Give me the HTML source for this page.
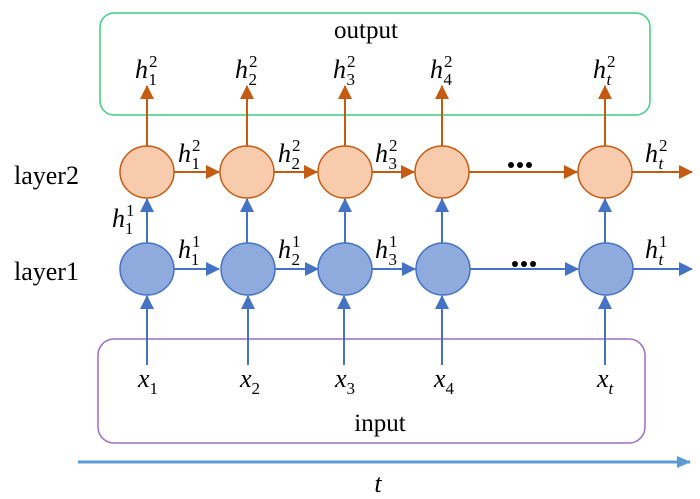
<!DOCTYPE html>
<html><head><style>body{margin:0;background:#fff}svg{display:block}</style></head><body>
<svg width="700" height="499" viewBox="0 0 700 499" xmlns="http://www.w3.org/2000/svg" font-family="Liberation Serif, serif">
<defs>
<marker id="o" markerWidth="14" markerHeight="14" refX="13" refY="7" orient="auto" markerUnits="userSpaceOnUse" viewBox="0 0 14 14"><path d="M0,0 L14,7 L0,14z" fill="#c55a11"/></marker>
<marker id="b" markerWidth="14" markerHeight="14" refX="13" refY="7" orient="auto" markerUnits="userSpaceOnUse" viewBox="0 0 14 14"><path d="M0,0 L14,7 L0,14z" fill="#4472c4"/></marker>
<marker id="t" markerWidth="14" markerHeight="12" refX="13" refY="6" orient="auto" markerUnits="userSpaceOnUse"><path d="M0,0 L14,6 L0,12z" fill="#5b9bd5"/></marker>
</defs>
<rect x="100" y="13" width="550" height="102" rx="14" fill="none" stroke="#3fcf7f" stroke-width="1.5"/>
<rect x="98" y="339" width="547" height="104" rx="16" fill="none" stroke="#9e6fc4" stroke-width="1.5"/>
<text x="366" y="38" font-size="25" text-anchor="middle">output</text>
<text x="380" y="431" font-size="25" text-anchor="middle">input</text>
<text x="14" y="184" font-size="26">layer2</text>
<text x="14" y="280" font-size="26">layer1</text>
<line x1="78" y1="462" x2="690" y2="462" stroke="#5b9bd5" stroke-width="3" marker-end="url(#t)"/>
<text x="378" y="492" font-size="26" font-style="italic" text-anchor="middle">t</text>
<g stroke-width="2">
<g stroke="#c55a11" fill="none">
<line x1="147" y1="146" x2="147" y2="86" marker-end="url(#o)"/>
<line x1="247" y1="146" x2="247" y2="86" marker-end="url(#o)"/>
<line x1="345" y1="146" x2="345" y2="86" marker-end="url(#o)"/>
<line x1="442" y1="146" x2="442" y2="86" marker-end="url(#o)"/>
<line x1="605" y1="146" x2="605" y2="86" marker-end="url(#o)"/>
<line x1="174" y1="172" x2="219" y2="172" marker-end="url(#o)"/>
<line x1="274" y1="172" x2="317" y2="172" marker-end="url(#o)"/>
<line x1="372" y1="172" x2="414" y2="172" marker-end="url(#o)"/>
<line x1="469" y1="172" x2="577" y2="172" marker-end="url(#o)"/>
<line x1="632" y1="172" x2="692" y2="172" marker-end="url(#o)"/>
</g>
<g stroke="#4472c4" fill="none">
<line x1="147" y1="243" x2="147" y2="199" marker-end="url(#b)"/>
<line x1="247" y1="243" x2="247" y2="199" marker-end="url(#b)"/>
<line x1="345" y1="243" x2="345" y2="199" marker-end="url(#b)"/>
<line x1="442" y1="243" x2="442" y2="199" marker-end="url(#b)"/>
<line x1="605" y1="243" x2="605" y2="199" marker-end="url(#b)"/>
<line x1="174" y1="269" x2="219" y2="269" marker-end="url(#b)"/>
<line x1="275" y1="269" x2="318" y2="269" marker-end="url(#b)"/>
<line x1="372" y1="269" x2="415" y2="269" marker-end="url(#b)"/>
<line x1="470" y1="269" x2="578" y2="269" marker-end="url(#b)"/>
<line x1="633" y1="269" x2="692" y2="269" marker-end="url(#b)"/>
<line x1="147" y1="365" x2="147" y2="296" marker-end="url(#b)"/>
<line x1="248" y1="365" x2="248" y2="296" marker-end="url(#b)"/>
<line x1="344" y1="365" x2="344" y2="296" marker-end="url(#b)"/>
<line x1="442" y1="365" x2="442" y2="296" marker-end="url(#b)"/>
<line x1="605" y1="365" x2="605" y2="296" marker-end="url(#b)"/>
</g>
</g>
<g fill="#f8cbad" stroke="#c55a11" stroke-width="1.5">
<ellipse cx="147" cy="172" rx="27" ry="26"/><ellipse cx="247" cy="172" rx="27" ry="26"/><ellipse cx="345" cy="172" rx="27" ry="26"/><ellipse cx="442" cy="172" rx="27" ry="26"/><ellipse cx="605" cy="172" rx="27" ry="26"/>
</g>
<g fill="#8faadc" stroke="#4472c4" stroke-width="1.5">
<ellipse cx="147" cy="269" rx="27" ry="26"/><ellipse cx="248" cy="269" rx="27" ry="26"/><ellipse cx="345" cy="269" rx="27" ry="26"/><ellipse cx="443" cy="269" rx="27" ry="26"/><ellipse cx="606" cy="269" rx="27" ry="26"/>
</g>
<g fill="#000"><circle cx="511" cy="165" r="3"/><circle cx="520" cy="165" r="3"/><circle cx="529" cy="165" r="3"/><circle cx="515" cy="264" r="3"/><circle cx="524" cy="264" r="3"/><circle cx="533" cy="264" r="3"/></g>
<g font-size="26" font-style="italic">
<text x="135" y="78">h<tspan font-size="17" font-style="normal" dx="1" dy="-11">2</tspan><tspan font-size="17" font-style="normal" dx="-9" dy="18">1</tspan></text>
<text x="235" y="78">h<tspan font-size="17" font-style="normal" dx="1" dy="-11">2</tspan><tspan font-size="17" font-style="normal" dx="-9" dy="18">2</tspan></text>
<text x="333" y="78">h<tspan font-size="17" font-style="normal" dx="1" dy="-11">2</tspan><tspan font-size="17" font-style="normal" dx="-9" dy="18">3</tspan></text>
<text x="430" y="78">h<tspan font-size="17" font-style="normal" dx="1" dy="-11">2</tspan><tspan font-size="17" font-style="normal" dx="-9" dy="18">4</tspan></text>
<text x="593" y="78">h<tspan font-size="17" font-style="normal" dx="1" dy="-11">2</tspan><tspan font-size="17" dx="-9" dy="18">t</tspan></text>
<text x="178" y="162">h<tspan font-size="17" font-style="normal" dx="1" dy="-11">2</tspan><tspan font-size="17" font-style="normal" dx="-9" dy="18">1</tspan></text>
<text x="278" y="162">h<tspan font-size="17" font-style="normal" dx="1" dy="-11">2</tspan><tspan font-size="17" font-style="normal" dx="-9" dy="18">2</tspan></text>
<text x="375" y="162">h<tspan font-size="17" font-style="normal" dx="1" dy="-11">2</tspan><tspan font-size="17" font-style="normal" dx="-9" dy="18">3</tspan></text>
<text x="645" y="162">h<tspan font-size="17" font-style="normal" dx="1" dy="-11">2</tspan><tspan font-size="17" dx="-9" dy="18">t</tspan></text>
<text x="112" y="227">h<tspan font-size="17" font-style="normal" dx="1" dy="-11">1</tspan><tspan font-size="17" font-style="normal" dx="-9" dy="18">1</tspan></text>
<text x="178" y="258">h<tspan font-size="17" font-style="normal" dx="1" dy="-11">1</tspan><tspan font-size="17" font-style="normal" dx="-9" dy="18">1</tspan></text>
<text x="278" y="258">h<tspan font-size="17" font-style="normal" dx="1" dy="-11">1</tspan><tspan font-size="17" font-style="normal" dx="-9" dy="18">2</tspan></text>
<text x="375" y="258">h<tspan font-size="17" font-style="normal" dx="1" dy="-11">1</tspan><tspan font-size="17" font-style="normal" dx="-9" dy="18">3</tspan></text>
<text x="645" y="258">h<tspan font-size="17" font-style="normal" dx="1" dy="-11">1</tspan><tspan font-size="17" dx="-9" dy="18">t</tspan></text>
<text x="138" y="387">x<tspan font-size="17" font-style="normal" dy="7">1</tspan></text>
<text x="240" y="387">x<tspan font-size="17" font-style="normal" dy="7">2</tspan></text>
<text x="335" y="387">x<tspan font-size="17" font-style="normal" dy="7">3</tspan></text>
<text x="434" y="387">x<tspan font-size="17" font-style="normal" dy="7">4</tspan></text>
<text x="597" y="387">x<tspan font-size="17" dy="7">t</tspan></text>
</g>
</svg>
</body></html>
